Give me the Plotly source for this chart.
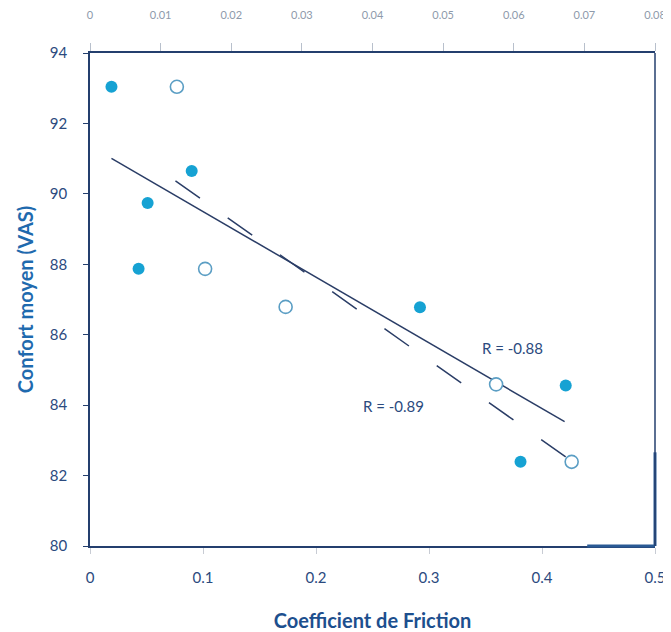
import plotly.graph_objects as go

# Filled points (bottom axis: Coefficient de Friction)
filled_x = [0.019, 0.051, 0.043, 0.090, 0.292, 0.421, 0.381]
filled_y = [93.04, 89.74, 87.87, 90.65, 86.78, 84.56, 82.39]

# Open points (top axis, 0 - 0.08)
open_x = [0.0123, 0.0163, 0.0277, 0.0575, 0.0682]
open_y = [93.04, 87.87, 86.79, 84.59, 82.39]

# Regression lines (endpoints)
solid_x = [0.019, 0.420]
solid_y = [91.01, 83.53]
dash_x = [0.0121, 0.0680]
dash_y = [90.37, 82.44]

x_ticks = [0, 0.1, 0.2, 0.3, 0.4, 0.5]
x_ticklabels = ["0", "0.1", "0.2", "0.3", "0.4", "0.5"]
top_ticks = [0, 0.01, 0.02, 0.03, 0.04, 0.05, 0.06, 0.07, 0.08]
top_ticklabels = ["0", "0.01", "0.02", "0.03", "0.04", "0.05", "0.06", "0.07", "0.08"]
y_ticks = [80, 82, 84, 86, 88, 90, 92, 94]

r_labels = ["R = -0.88", "R = -0.89"]
r_x = [0.3736, 0.2684]
r_y = [85.62, 83.98]

NAVY = "#243f6e"
TICK = "#2b4a7e"
FONT = "Lato, 'Open Sans', sans-serif"

fig = go.Figure()

fig.add_trace(go.Scatter(x=solid_x, y=solid_y, mode="lines",
                         line=dict(color="#2a3d66", width=1.5),
                         xaxis="x", yaxis="y", showlegend=False, hoverinfo="skip"))
fig.add_trace(go.Scatter(x=dash_x, y=dash_y, mode="lines",
                         line=dict(color="#2a3d66", width=1.5, dash="30px,34px"),
                         xaxis="x2", yaxis="y", showlegend=False, hoverinfo="skip"))
fig.add_trace(go.Scatter(x=filled_x, y=filled_y, mode="markers",
                         marker=dict(color="#16a2d3", size=12, line=dict(width=0)),
                         xaxis="x", yaxis="y", showlegend=False))
fig.add_trace(go.Scatter(x=open_x, y=open_y, mode="markers",
                         marker=dict(color="white", size=13,
                                     line=dict(color="#5b9ec4", width=1.6)),
                         xaxis="x2", yaxis="y", showlegend=False))

for t, xx, yy in zip(r_labels, r_x, r_y):
    fig.add_annotation(x=xx, y=yy, xref="x", yref="y", text=t, showarrow=False,
                       font=dict(family=FONT, size=15, color=TICK))

# darker segments at lower right corner, as in the reference
fig.add_shape(type="line", xref="x domain", yref="y domain", x0=0.88, x1=1.0, y0=0, y1=0,
              line=dict(color="#2a5a94", width=3))
fig.add_shape(type="line", xref="x domain", yref="y domain", x0=1.0, x1=1.0, y0=0, y1=0.19,
              line=dict(color="#2a5a94", width=3))

fig.update_layout(
    width=671, height=632,
    margin=dict(l=82, r=24, t=45, b=94),
    paper_bgcolor="white", plot_bgcolor="white",
    font=dict(family=FONT, color=TICK),
    xaxis=dict(range=[0, 0.5], tickvals=x_ticks, ticktext=x_ticklabels, automargin=False,
               showgrid=False, zeroline=False, showline=True, linecolor=NAVY, linewidth=1.5,
               mirror=False, ticks="outside", ticklen=6, tickcolor="#c8ccd4", tickwidth=1,
               tickfont=dict(size=15, color=TICK), ticklabelstandoff=11,
               title=dict(text="<b>Coefficient de Friction</b>",
                          font=dict(size=20, color="#1d4f8e", family=FONT), standoff=29)),
    xaxis2=dict(range=[0, 0.08], overlaying="x", side="top", tickvals=top_ticks,
                ticktext=top_ticklabels, showgrid=False, zeroline=False, showline=True,
                automargin=False,
                linecolor=NAVY, linewidth=1.5, ticks="outside", ticklen=8,
                tickcolor="#b8c0cc", tickfont=dict(size=11, color="#8e9aab"),
                ticklabelstandoff=20),
    yaxis=dict(range=[80, 94], tickvals=y_ticks, showgrid=False, zeroline=False,
               automargin=False,
               showline=True, linecolor=NAVY, linewidth=1.5, ticks="outside", ticklen=5,
               tickcolor=NAVY, tickfont=dict(size=15, color=TICK), ticklabelstandoff=13,
               title=dict(text="<b>Confort moyen (VAS)</b>",
                          font=dict(size=20, color="#1f6aae", family=FONT), standoff=11)),
)

# right border of the plot
fig.add_shape(type="line", xref="x domain", yref="y domain", x0=1.0, x1=1.0, y0=0, y1=1,
              line=dict(color=NAVY, width=1.5))

fig.write_html("out.html")
